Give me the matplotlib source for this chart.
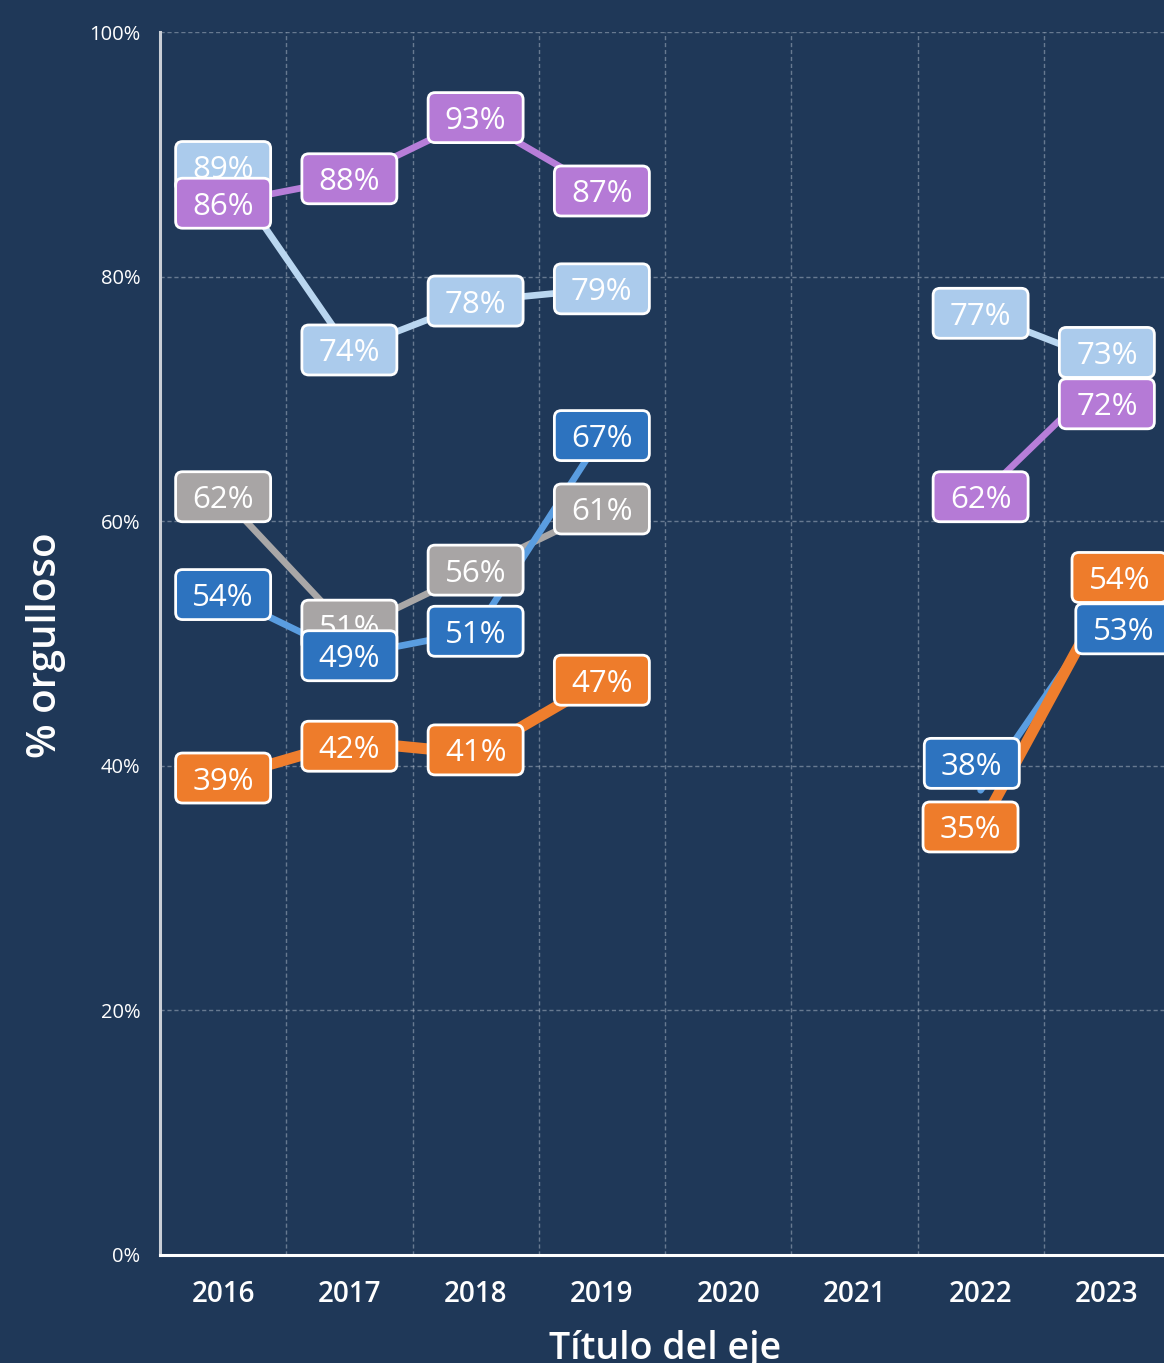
import numpy as np
import matplotlib
matplotlib.use("Agg")
import matplotlib.pyplot as plt
from matplotlib.patches import FancyBboxPatch
from matplotlib.transforms import ScaledTranslation

plt.rcParams['font.family'] = ['Open Sans', 'DejaVu Sans']

# data (percent), nan = no survey that year
years = ['2016', '2017', '2018', '2019', '2020', '2021', '2022', '2023']
nan = np.nan
light_blue = [89, 74, 78, 79, nan, nan, 77, 73]
purple = [86, 88, 93, 87, nan, nan, 62, 72]
gray = [62, 51, 56, 61, nan, nan, nan, nan]
blue = [54, 49, 51, 67, nan, nan, 38, 53]
orange = [39, 42, 41, 47, nan, nan, 35, 54]

# label nudges (percent points / category units) so boxes don't collide
lb_dy = [0, 0, 0, 0, 0, 0, 0, 0.8]
pu_dy = [0, 0, 0, 0, 0, 0, 0, -2.4]
gr_dy = [0, 0.5, 0, 0, 0, 0, 0, 0]
bl_dy = [0, 0, 0, 0, 0, 0, 2.2, -1.8]
or_dy = [0, -0.4, 0.3, 0, 0, 0, 0, 1.4]
bl_dx = [0, 0, 0, 0, 0, 0, -0.07, 0.13]
or_dx = [0, 0, 0, 0, 0, 0, -0.08, 0.1]
zero_dx = [0] * 8

series = [
    # values, line colour, box colour, line width, dy, dx
    (light_blue, '#b9d6f0', '#abcbec', 4.8, lb_dy, zero_dx),
    (purple, '#b77ed9', '#b57ad6', 4.8, pu_dy, zero_dx),
    (gray, '#a9a7a7', '#a8a5a5', 4.8, gr_dy, zero_dx),
    (blue, '#5a9de0', '#2d73bf', 4.8, bl_dy, bl_dx),
    (orange, '#ef7e2d', '#ee7c2b', 8, or_dy, or_dx),
]

bg = '#1f3858'
fig = plt.figure(figsize=(11.64, 13.63), dpi=100, facecolor=bg)
ax = fig.add_axes([160 / 1164, 1 - 1255 / 1363, 1010 / 1164, 1223 / 1363])
ax.set_facecolor(bg)

x = np.arange(len(years))
for i, (vals, lc, bc, lw, dy, dx) in enumerate(series):
    v = np.array(vals, dtype=float)
    ax.plot(x, v, color=lc, lw=lw, solid_capstyle='round', zorder=2 + i * 0.1)

box_w, box_h = 0.95, 0.50
for i, (vals, lc, bc, lw, dy, dx) in enumerate(series):
    for j, val in enumerate(vals):
        if np.isnan(val):
            continue
        px = x[j] + dx[j]
        py = val + dy[j]
        tr = fig.dpi_scale_trans + ScaledTranslation(px, py, ax.transData)
        box = FancyBboxPatch((-box_w / 2, -box_h / 2), box_w, box_h,
                             boxstyle='round,pad=0,rounding_size=0.07',
                             facecolor=bc, edgecolor='white', lw=2,
                             transform=tr, zorder=5 + i, clip_on=False)
        ax.add_patch(box)
        ax.text(px, py, f'{int(val)}%', color='white', fontsize=22.5,
                ha='center', va='center_baseline', zorder=5.5 + i)

ax.set_xlim(-0.5, len(years) - 0.5)
ax.set_ylim(0, 100)
ax.set_xticks(x)
ax.set_xticklabels(years, fontsize=20, fontweight='semibold', color='white')
ax.set_xticks(x[:-1] + 0.5, minor=True)
ax.set_yticks([0, 20, 40, 60, 80, 100])
ax.set_yticklabels(['0%', '20%', '40%', '60%', '80%', '100%'], fontsize=14.5, color='white')
ax.tick_params(axis='x', which='both', length=0, pad=18)
ax.tick_params(axis='y', length=0, pad=14)

ax.grid(axis='y', which='major', color='#c0cad6', alpha=0.45, lw=1, ls=(0, (3, 2)))
ax.grid(axis='x', which='minor', color='#c0cad6', alpha=0.45, lw=1, ls=(0, (3, 2)))
ax.grid(axis='x', which='major', visible=False)
ax.set_axisbelow(True)

for s in ['top', 'right']:
    ax.spines[s].set_visible(False)
ax.spines['left'].set_color('#c9ced6')
ax.spines['left'].set_linewidth(2.2)
ax.spines['bottom'].set_color('white')
ax.spines['bottom'].set_linewidth(2.2)

fig.text(46 / 1164, 1 - 645 / 1363, '% orgulloso', rotation=90, color='white',
         fontsize=29, fontweight='semibold', ha='center', va='center')
fig.text(665 / 1164, 1 - 1330 / 1363, 'Título del eje', color='white',
         fontsize=27, fontweight='semibold', ha='center', va='top')

fig.savefig('out.png', dpi=100, facecolor=bg)
